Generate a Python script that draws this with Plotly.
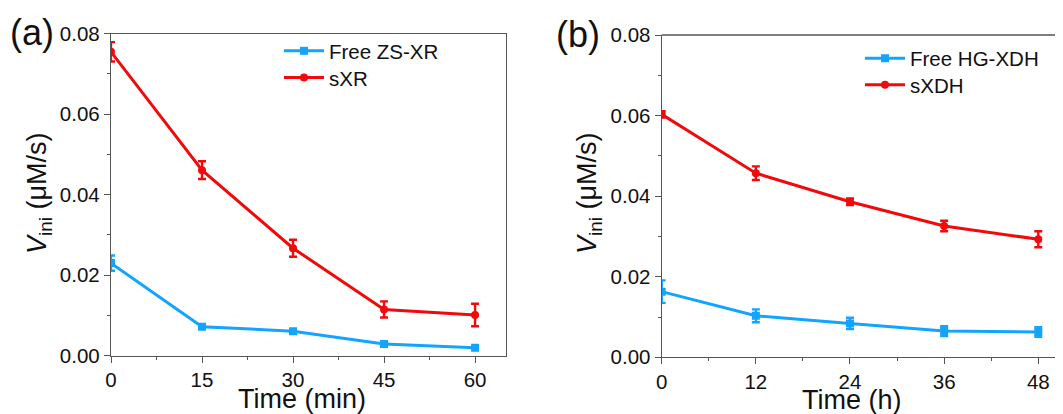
import plotly.graph_objects as go

# ---- data ----
time_a = [0, 15, 30, 45, 60]
free_zsxr = [0.0230, 0.0072, 0.0061, 0.0029, 0.0020]
free_zsxr_err = [0.0019, 0.0005, 0.0005, 0.0004, 0.0003]
sxr = [0.0755, 0.0461, 0.0267, 0.0115, 0.0101]
sxr_err = [0.0024, 0.0022, 0.0021, 0.0020, 0.0028]

time_b = [0, 12, 24, 36, 48]
free_hgxdh = [0.0163, 0.0103, 0.0084, 0.0065, 0.0063]
free_hgxdh_err = [0.0028, 0.0016, 0.0014, 0.0012, 0.0012]
sxdh = [0.0603, 0.0457, 0.0386, 0.0326, 0.0293]
sxdh_err = [0.0008, 0.0017, 0.0008, 0.0013, 0.0020]

ticks_a = [0, 15, 30, 45, 60]
ticks_b = [0, 12, 24, 36, 48]
ticks_y = [0.00, 0.02, 0.04, 0.06, 0.08]
tick_labels_y = ["0.00", "0.02", "0.04", "0.06", "0.08"]

BLUE = "#12A4FF"
RED = "#F00A0A"
FONT = "Liberation Sans, Arial, sans-serif"
OFF = 8  # page body margin in the browser
W, H = 1063 - OFF, 414 - OFF

fig = go.Figure()

def add_series(x, y, err, color, symbol, name, xa, ya, legend):
    fig.add_trace(go.Scatter(
        x=x, y=y, mode="lines+markers", name=name,
        line=dict(color=color, width=3),
        marker=dict(color=color, size=8, symbol=symbol),
        error_y=dict(type="data", array=err, visible=True, color=color,
                     thickness=2.4, width=4),
        xaxis=xa, yaxis=ya, legend=legend,
    ))

add_series(time_a, free_zsxr, free_zsxr_err, BLUE, "square", "Free ZS-XR", "x", "y", "legend")
add_series(time_a, sxr, sxr_err, RED, "circle", "sXR", "x", "y", "legend2")
add_series(time_b, free_hgxdh, free_hgxdh_err, BLUE, "square", "Free HG-XDH", "x2", "y2", "legend3")
add_series(time_b, sxdh, sxdh_err, RED, "circle", "sXDH", "x2", "y2", "legend4")

def px_x(p):
    return (p - OFF) / W

def px_y(p):
    return 1 - (p - OFF) / H

axis_common = dict(
    showgrid=False, zeroline=False, showline=True, linecolor="#555555", linewidth=1.3,
    ticks="outside", ticklen=6, tickwidth=1.2, tickcolor="#555555",
    tickfont=dict(family=FONT, size=20.5, color="#111111"),
    minor=dict(ticks="outside", ticklen=3, tickwidth=1.2, tickcolor="#555555"),
    automargin=False,
)

def leg(xp, yp):
    return dict(x=px_x(xp), y=px_y(yp), xanchor="left", yanchor="middle",
                bgcolor="rgba(0,0,0,0)", font=dict(family=FONT, size=20.5, color="#111111"),
                tracegroupgap=0, itemwidth=40)

fig.update_layout(
    width=W, height=H,
    margin=dict(l=0, r=0, t=0, b=0),
    paper_bgcolor="white", plot_bgcolor="white",
    font=dict(family=FONT, color="#111111"),
    xaxis=dict(axis_common, domain=[px_x(111), px_x(506)], range=[0, 65.1],
               tickvals=ticks_a, anchor="y", mirror=True,
               minor=dict(axis_common["minor"], dtick=7.5, tick0=0)),
    yaxis=dict(axis_common, domain=[px_y(355.7), px_y(33.7)], range=[0, 0.08],
               tickvals=ticks_y, ticktext=tick_labels_y, anchor="x", mirror=True,
               minor=dict(axis_common["minor"], dtick=0.01, tick0=0)),
    xaxis2=dict(axis_common, domain=[px_x(661.7), 1.0], range=[0, 51.15],
                tickvals=ticks_b, anchor="y2", mirror=False,
                minor=dict(axis_common["minor"], dtick=6, tick0=0)),
    yaxis2=dict(axis_common, domain=[px_y(357.3), px_y(35)], range=[0, 0.08],
                tickvals=ticks_y, ticktext=tick_labels_y, anchor="x2", mirror=False,
                minor=dict(axis_common["minor"], dtick=0.01, tick0=0)),
    legend=leg(279, 51),
    legend2=leg(279, 77.7),
    legend3=leg(860, 58.3),
    legend4=leg(860, 85),
    showlegend=True,
)

# top frame line for panel (b) (right side is cut off in the reference)
fig.add_shape(type="line", xref="paper", yref="paper",
              x0=px_x(661.7), x1=1.0, y0=px_y(35), y1=px_y(35),
              line=dict(color="#555555", width=1.3))

annots = [
    dict(text="(a)", x=px_x(32), y=px_y(33), size=36),
    dict(text="(b)", x=px_x(578), y=px_y(34), size=36),
    dict(text="Time (min)", x=px_x(302), y=px_y(399), size=27),
    dict(text="Time (h)", x=px_x(852), y=px_y(400), size=27),
]
for a in annots:
    fig.add_annotation(text=a["text"], x=a["x"], y=a["y"], xref="paper", yref="paper",
                       showarrow=False, xanchor="center", yanchor="middle",
                       font=dict(family=FONT, size=a["size"], color="#111111"))

for xc in [39, 589]:
    fig.add_annotation(text="<i>V</i><sub>ini</sub> (μM/s)", x=px_x(xc), y=px_y(194),
                       xref="paper", yref="paper", showarrow=False, textangle=-90,
                       xanchor="center", yanchor="middle",
                       font=dict(family=FONT, size=27, color="#111111"))

fig.write_html("out.html")
